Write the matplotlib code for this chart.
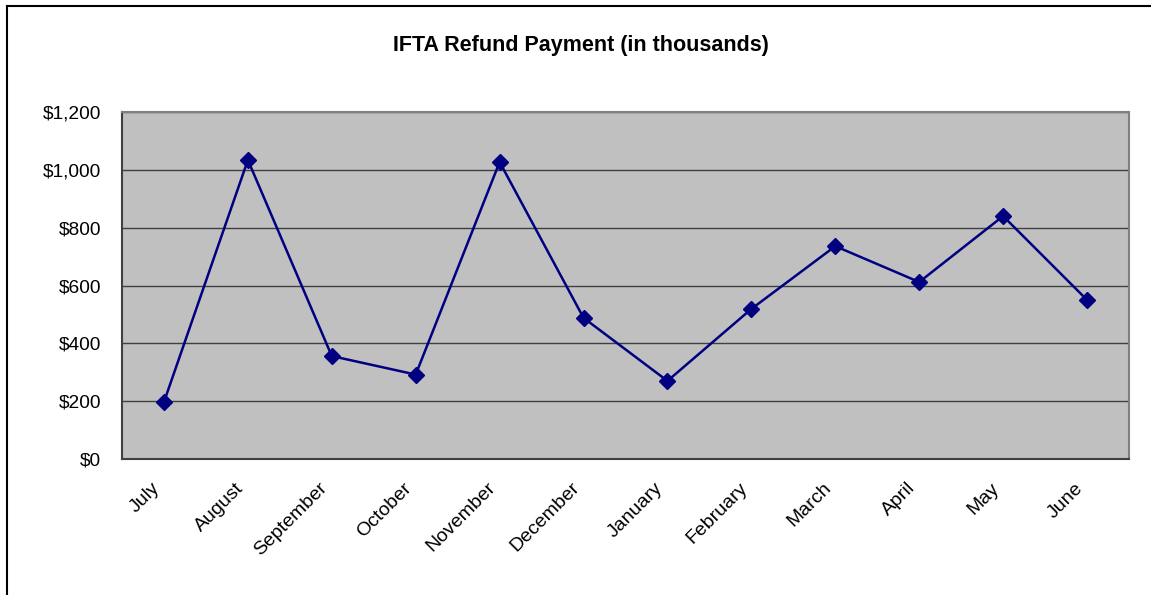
import matplotlib

matplotlib.use("Agg")
import matplotlib.pyplot as plt
import matplotlib.transforms as mtransforms
from matplotlib.lines import Line2D
from matplotlib.ticker import FuncFormatter

months = ["July", "August", "September", "October", "November", "December",
          "January", "February", "March", "April", "May", "June"]
refunds = [197, 1034, 356, 292, 1027, 488, 270, 519, 736, 612, 840, 550]
y_ticks = [0, 200, 400, 600, 800, 1000, 1200]

plt.rcParams["font.family"] = ["Liberation Sans", "DejaVu Sans"]

W, H = 1151, 595
fig = plt.figure(figsize=(W / 100, H / 100), dpi=100)

# outer chart frame: only top and left edges are visible in the crop
fig.lines.append(Line2D([6.5 / W, 6.5 / W], [0, 1 - 5.5 / H], transform=fig.transFigure,
                        color="black", linewidth=1.5))
fig.lines.append(Line2D([6.5 / W, 1], [1 - 5.5 / H, 1 - 5.5 / H], transform=fig.transFigure,
                        color="black", linewidth=1.5))

ax = fig.add_axes([122 / W, 1 - 459 / H, 1007 / W, 347 / H])
ax.set_facecolor("#c0c0c0")

x = list(range(len(months)))
ax.plot(x, refunds, color="#000080", linewidth=1.8, marker="D", markersize=8,
        markerfacecolor="#000080", markeredgecolor="#000080", zorder=3)

ax.set_xlim(-0.5, len(months) - 0.5)
ax.set_ylim(0, 1200)
ax.set_yticks(y_ticks)
ax.yaxis.set_major_formatter(FuncFormatter(lambda v, p: f"${v:,.0f}"))
ax.grid(axis="y", color="#404040", linewidth=1.0, zorder=1)
ax.set_axisbelow(True)

ax.set_xticks(x)
ax.set_xticklabels(months, rotation=45, ha="right", va="center", rotation_mode="anchor")
ax.tick_params(axis="x", length=0, pad=19, labelsize=14)
ax.tick_params(axis="y", length=0, pad=15, labelsize=13.8)

# nudge the rotated month labels a bit left, like the original
shift = mtransforms.ScaledTranslation(-7 / 100, 0, fig.dpi_scale_trans)
for lbl in ax.get_xticklabels():
    lbl.set_transform(lbl.get_transform() + shift)

for side in ["top", "right"]:
    ax.spines[side].set_color("#808080")
    ax.spines[side].set_linewidth(1.5)
for side in ["left", "bottom"]:
    ax.spines[side].set_color("#404040")
    ax.spines[side].set_linewidth(1.5)

fig.text(581 / W, 1 - 46 / H, "IFTA Refund Payment (in thousands)", ha="center", va="center",
         fontsize=15.5, fontweight="bold")

fig.savefig("out.png", dpi=100)
